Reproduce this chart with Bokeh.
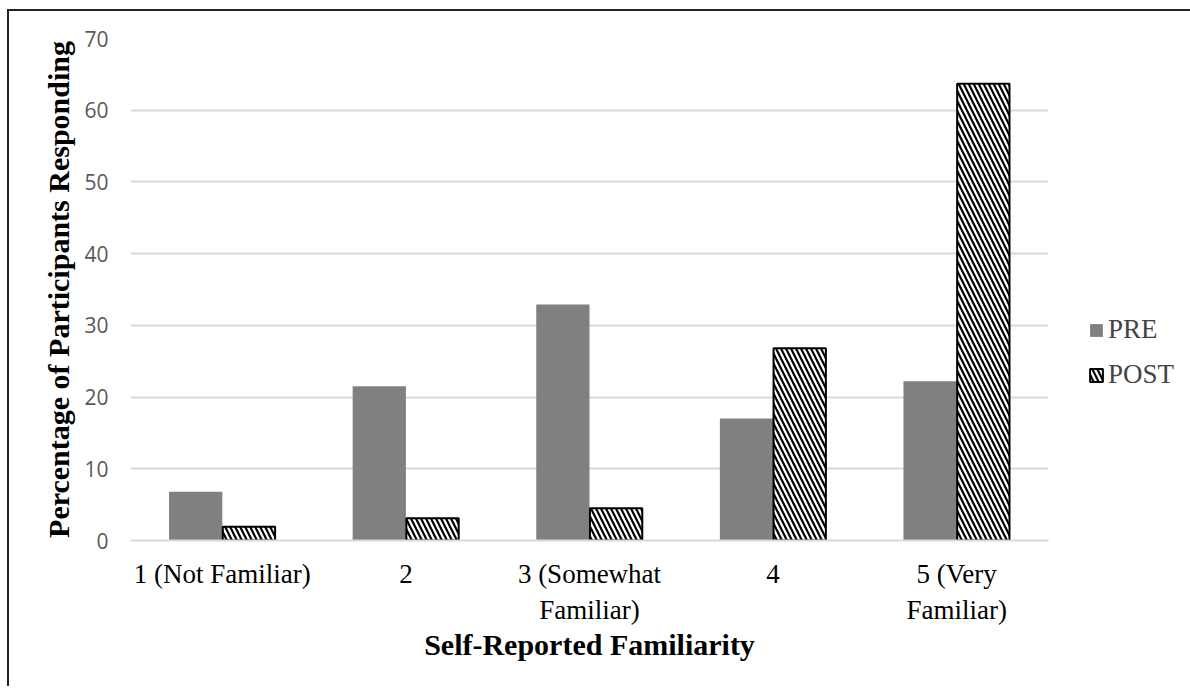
from bokeh.plotting import figure
from bokeh.models import ColumnDataSource, Legend, LegendItem, FactorRange
from bokeh.transform import dodge
from bokeh.embed import file_html
from bokeh.resources import INLINE

categories = ["1 (Not Familiar)", "2", "3 (Somewhat\nFamiliar)", "4", "5 (Very\nFamiliar)"]
pre = [6.8, 21.5, 32.9, 17.0, 22.2]
post = [1.9, 3.1, 4.5, 26.8, 63.7]
y_ticks = [0, 10, 20, 30, 40, 50, 60, 70]

src = ColumnDataSource(dict(cat=categories, pre=pre, post=post))

p = figure(x_range=FactorRange(*categories), y_range=(0, 70),
           width=1175, height=675, frame_width=918, frame_height=502,
           min_border_left=121, min_border_top=27, min_border_right=136, min_border_bottom=146,
           output_backend="svg", toolbar_location=None)
p.styles = {"border-left": "2px solid #222222", "border-top": "2px solid #222222",
            "margin-left": "7px", "margin-top": "9px"}

r_pre = p.vbar(x=dodge("cat", -0.145, range=p.x_range), top="pre", width=0.29, source=src,
               fill_color="#808080", line_color=None)
r_post = p.vbar(x=dodge("cat", 0.145, range=p.x_range), top="post", width=0.285, source=src,
                fill_color="white", line_color="black", line_width=2,
                hatch_pattern="\\", hatch_color="black", hatch_scale=10, hatch_weight=2.2)

p.outline_line_color = None
p.xgrid.grid_line_color = None
p.ygrid.grid_line_color = "#d9d9d9"
p.ygrid.grid_line_width = 2
p.yaxis.ticker = y_ticks

p.xaxis.axis_line_color = "#d9d9d9"
p.xaxis.axis_line_width = 2
p.yaxis.axis_line_color = None
for ax in (p.xaxis, p.yaxis):
    ax.major_tick_line_color = None
    ax.minor_tick_line_color = None
    ax.major_tick_out = 0
    ax.major_tick_in = 0

p.xaxis.major_label_text_font = "Liberation Serif"
p.xaxis.major_label_text_font_size = "27px"
p.xaxis.major_label_text_color = "black"
p.xaxis.major_label_standoff = 18
p.xaxis.axis_label = "Self-Reported Familiarity"
p.xaxis.axis_label_text_font = "Liberation Serif"
p.xaxis.axis_label_text_font_style = "bold"
p.xaxis.axis_label_text_font_size = "30px"
p.xaxis.axis_label_text_color = "black"
p.xaxis.axis_label_standoff = 0

p.yaxis.major_label_text_font = "Open Sans"
p.yaxis.major_label_text_font_size = "21px"
p.yaxis.major_label_text_color = "#595959"
p.yaxis.major_label_standoff = 22
p.yaxis.axis_label = "Percentage of Participants Responding"
p.yaxis.axis_label_text_font = "Liberation Serif"
p.yaxis.axis_label_text_font_style = "bold"
p.yaxis.axis_label_text_font_size = "30px"
p.yaxis.axis_label_text_color = "black"
p.yaxis.axis_label_standoff = 6

legend = Legend(items=[LegendItem(label="PRE", renderers=[r_pre]),
                       LegendItem(label="POST", renderers=[r_post])],
                location=(40, 150), border_line_color=None, background_fill_alpha=0,
                padding=0, margin=0, spacing=14, glyph_width=16, glyph_height=16,
                label_text_font="Liberation Serif", label_text_font_size="27px",
                label_standoff=4)
p.add_layout(legend, "right")

open("out.html", "w").write(file_html(p, INLINE))
